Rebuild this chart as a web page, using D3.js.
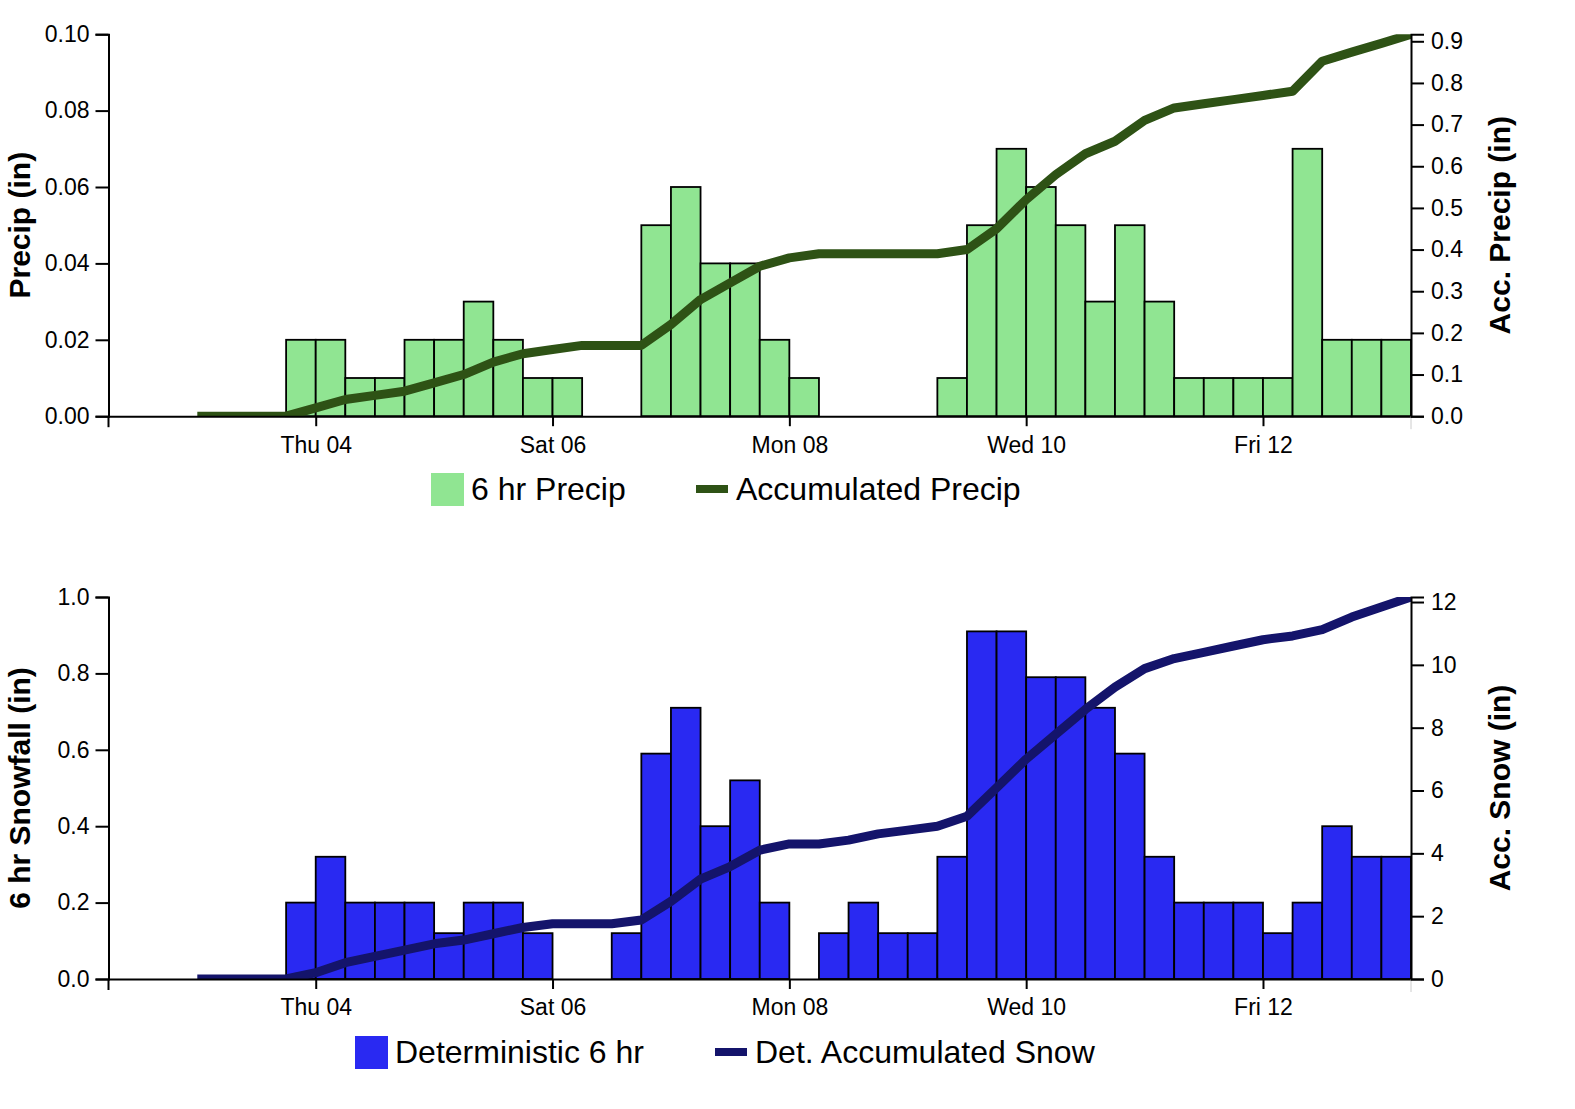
<!DOCTYPE html>
<html><head><meta charset="utf-8">
<script src="https://cdn.jsdelivr.net/npm/d3@7"></script>
<style>
body{margin:0;background:#fff}
text{font-family:Arial,"Liberation Sans",sans-serif}
</style>
</head><body>
<svg id="chart" width="1575" height="1109"></svg>
<script>
// ---- data ----
const times = [
 "2024-01-03T00:00Z","2024-01-03T06:00Z","2024-01-03T12:00Z","2024-01-03T18:00Z",
 "2024-01-04T00:00Z","2024-01-04T06:00Z","2024-01-04T12:00Z","2024-01-04T18:00Z",
 "2024-01-05T00:00Z","2024-01-05T06:00Z","2024-01-05T12:00Z","2024-01-05T18:00Z",
 "2024-01-06T00:00Z","2024-01-06T06:00Z","2024-01-06T12:00Z","2024-01-06T18:00Z",
 "2024-01-07T00:00Z","2024-01-07T06:00Z","2024-01-07T12:00Z","2024-01-07T18:00Z",
 "2024-01-08T00:00Z","2024-01-08T06:00Z","2024-01-08T12:00Z","2024-01-08T18:00Z",
 "2024-01-09T00:00Z","2024-01-09T06:00Z","2024-01-09T12:00Z","2024-01-09T18:00Z",
 "2024-01-10T00:00Z","2024-01-10T06:00Z","2024-01-10T12:00Z","2024-01-10T18:00Z",
 "2024-01-11T00:00Z","2024-01-11T06:00Z","2024-01-11T12:00Z","2024-01-11T18:00Z",
 "2024-01-12T00:00Z","2024-01-12T06:00Z","2024-01-12T12:00Z","2024-01-12T18:00Z",
 "2024-01-13T00:00Z","2024-01-13T06:00Z"
];
const precip6h = [0,0,0,0, 0.02,0.02,0.01,0.01, 0.02,0.02,0.03,0.02, 0.01,0.01,0,0,
 0.05,0.06,0.04,0.04, 0.02,0.01,0,0, 0,0,0.01,0.05, 0.07,0.06,0.05,0.03,
 0.05,0.03,0.01,0.01, 0.01,0.01,0.07,0.02, 0.02,0.02];
const precipAcc = [0,0,0,0, 0.02,0.04,0.05,0.06, 0.08,0.10,0.13,0.15, 0.16,0.17,0.17,0.17,
 0.22,0.28,0.32,0.36, 0.38,0.39,0.39,0.39, 0.39,0.39,0.40,0.45, 0.52,0.58,0.63,0.66,
 0.71,0.74,0.75,0.76, 0.77,0.78,0.852,0.874, 0.895,0.917];
const snow6h = [0,0,0,0, 0.2,0.32,0.2,0.2, 0.2,0.12,0.2,0.2, 0.12,0,0,0.12,
 0.59,0.71,0.4,0.52, 0.2,0,0.12,0.2, 0.12,0.12,0.32,0.91, 0.91,0.79,0.79,0.71,
 0.59,0.32,0.2,0.2, 0.2,0.12,0.2,0.4, 0.32,0.32];
const snowAcc = [0,0,0,0, 0.2,0.52,0.72,0.92, 1.12,1.24,1.44,1.64, 1.76,1.76,1.76,1.88,
 2.47,3.18,3.58,4.10, 4.30,4.30,4.42,4.62, 4.74,4.86,5.18,6.09, 7.00,7.79,8.58,9.29,
 9.88,10.20,10.40,10.60, 10.80,10.92,11.12,11.52, 11.84,12.16];
const xStart = "2024-01-02T06:00Z";
const xEnd = "2024-01-13T06:00Z";
const xTickDates = ["2024-01-04T00:00Z","2024-01-06T00:00Z","2024-01-08T00:00Z","2024-01-10T00:00Z","2024-01-12T00:00Z"];
const precipLeftTicks = [0,0.02,0.04,0.06,0.08,0.10];
const precipRightTicks = [0,0.1,0.2,0.3,0.4,0.5,0.6,0.7,0.8,0.9];
const snowLeftTicks = [0,0.2,0.4,0.6,0.8,1.0];
const snowRightTicks = [0,2,4,6,8,10,12];

// ---- layout ----
const svg = d3.select("#chart");
svg.append("rect").attr("width",1575).attr("height",1109).attr("fill","#fff");
const W = 1302.5, H = 382;
const SIX_H = 6*3600*1000;
const parsedTimes = times.map(t => new Date(t));
const x = d3.scaleUtc().domain([new Date(xStart), new Date(xEnd)]).range([0, W]);

function panel(opt){
  const g = svg.append("g").attr("transform", `translate(108.5,${opt.top})`);
  const yL = d3.scaleLinear().domain([0, opt.leftMax]).range([H, 0]);
  const yR = d3.scaleLinear().domain([0, d3.max(opt.acc)]).range([H, 0]);
  const clipId = "clip" + opt.id;
  g.append("clipPath").attr("id", clipId).append("rect").attr("width", W).attr("height", H);

  const rows = parsedTimes.map((t,i) => ({t, v: opt.bars[i], a: opt.acc[i]}));
  g.append("g").selectAll("rect").data(rows.filter(d => d.v > 0)).join("rect")
    .attr("x", d => x(new Date(+d.t - SIX_H)))
    .attr("width", d => x(d.t) - x(new Date(+d.t - SIX_H)))
    .attr("y", d => yL(d.v))
    .attr("height", d => H - yL(d.v))
    .attr("fill", opt.barColor)
    .attr("stroke", "#000").attr("stroke-width", 1.8);

  const line = d3.line().x(d => x(d.t)).y(d => yR(d.a));
  g.append("path").datum(rows).attr("d", line)
    .attr("fill","none").attr("stroke", opt.lineColor).attr("stroke-width", 9)
    .attr("stroke-linejoin","round")
    .attr("clip-path", `url(#${clipId})`);

  // x axis
  const xa = g.append("g").attr("transform", `translate(0,${H})`)
    .call(d3.axisBottom(x).tickValues(xTickDates.map(d => new Date(d)))
      .tickFormat(d3.utcFormat("%a %d")).tickSize(10).tickSizeOuter(0).tickPadding(10));
  g.append("line").attr("x1",0).attr("x2",0).attr("y1",H).attr("y2",H+11).attr("stroke","#000").attr("stroke-width",2);
  g.append("line").attr("x1",W).attr("x2",W).attr("y1",H).attr("y2",H+13).attr("stroke","#ccc").attr("stroke-width",1);

  const ya = g.append("g")
    .call(d3.axisLeft(yL).tickValues(opt.leftTicks).tickFormat(d3.format(opt.leftFmt))
      .tickSize(13).tickSizeOuter(13).tickPadding(6));
  const yr = g.append("g").attr("transform", `translate(${W},0)`)
    .call(d3.axisRight(yR).tickValues(opt.rightTicks).tickFormat(d3.format(opt.rightFmt))
      .tickSize(13).tickSizeOuter(13).tickPadding(7));
  [xa, ya, yr].forEach(a => {
    a.selectAll(".domain").attr("stroke-width", 2);
    a.selectAll(".tick line").attr("stroke-width", 2);
    a.selectAll("text").attr("font-size", 23).attr("fill", "#000")
      .attr("font-family", "Arial, 'Liberation Sans', sans-serif");
  });

  g.append("text").attr("transform", `translate(-79,${H/2}) rotate(-90)`)
    .attr("text-anchor","middle").attr("font-size",30).attr("font-weight","bold")
    .text(opt.leftTitle);
  g.append("text").attr("transform", `translate(${W+99},${H/2}) rotate(-90)`)
    .attr("text-anchor","middle").attr("font-size",30).attr("font-weight","bold")
    .text(opt.rightTitle);

  // legend
  const lg = svg.append("g");
  lg.append("rect").attr("x", opt.legX).attr("y", opt.legY - 16).attr("width", 33).attr("height", 33)
    .attr("fill", opt.barColor);
  lg.append("text").attr("x", opt.legX + 40).attr("y", opt.legY + 11).attr("font-size", 32)
    .text(opt.barLabel);
  lg.append("line").attr("x1", opt.legX2).attr("x2", opt.legX2 + 32)
    .attr("y1", opt.legY).attr("y2", opt.legY)
    .attr("stroke", opt.lineColor).attr("stroke-width", 8);
  lg.append("text").attr("x", opt.legX2 + 40).attr("y", opt.legY + 11).attr("font-size", 32)
    .text(opt.lineLabel);
}

panel({id:"p", top:34.2, bars:precip6h, acc:precipAcc, leftMax:0.10,
  leftTicks:precipLeftTicks, leftFmt:".2f", rightTicks:precipRightTicks, rightFmt:".1f",
  barColor:"#90e592", lineColor:"#2e5215",
  leftTitle:"Precip (in)", rightTitle:"Acc. Precip (in)",
  barLabel:"6 hr Precip", lineLabel:"Accumulated Precip",
  legX:431, legY:489, legX2:696});

panel({id:"s", top:597, bars:snow6h, acc:snowAcc, leftMax:1.0,
  leftTicks:snowLeftTicks, leftFmt:".1f", rightTicks:snowRightTicks, rightFmt:"d",
  barColor:"#2929f2", lineColor:"#14146b",
  leftTitle:"6 hr Snowfall (in)", rightTitle:"Acc. Snow (in)",
  barLabel:"Deterministic 6 hr", lineLabel:"Det. Accumulated Snow",
  legX:355, legY:1052, legX2:715});
</script>
</body></html>
